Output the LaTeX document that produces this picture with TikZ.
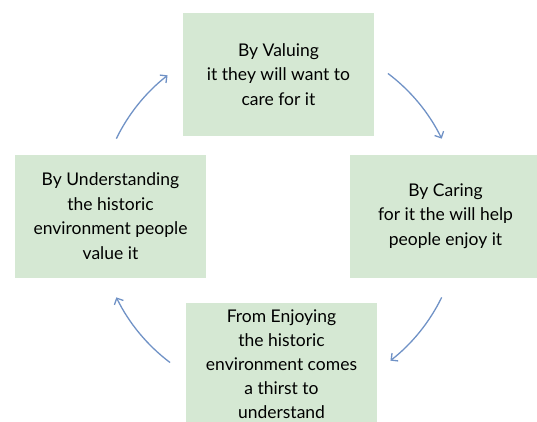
\documentclass[tikz,border=0pt]{standalone}
\usepackage{fontspec}
\setmainfont{Lato}
\usetikzlibrary{arrows.meta}
\definecolor{boxgreen}{RGB}{213,232,211}
\definecolor{arrowblue}{RGB}{112,146,198}
\tikzset{
  stage/.style={fill=boxgreen, minimum width=191pt, minimum height=123pt, inner sep=0pt,
    align=center, font=\fontsize{17.5}{24.5}\selectfont},
  cyclearrow/.style={arrowblue, line width=1.3pt, -{Straight Barb[length=5pt,width=10pt]}}
}

\begin{document}
\begin{tikzpicture}[x=1pt,y=1pt]
	%%%%% START %%%%%
	
	\useasboundingbox (0,0) rectangle (537,421);
	\clip (0,0) rectangle (537,421);
	
	\node[stage] (valuing) at (278.5,346.5) {By Valuing\\it they will want to\\care for it};
	\node[stage] (caring) at (445.5,205) {By Caring\\for it the will help\\people enjoy it};
	\node[stage, font=\fontsize{17.5}{24}\selectfont] (enjoying) at (281.5,57) {From Enjoying\\the historic\\environment comes\\a thirst to\\understand};
	\node[stage] (understanding) at (110.5,205) {By Understanding\\the historic\\environment people\\value it};
	
	\coordinate (hub) at (279,203);
	\draw[cyclearrow] ([shift={(154:181)}]hub) arc[start angle=154, end angle=128, radius=181];
	\draw[cyclearrow] ([shift={(53:181)}]hub) arc[start angle=53, end angle=26, radius=181];
	\draw[cyclearrow] ([shift={(-26:181)}]hub) arc[start angle=-26, end angle=-52, radius=181];
	\draw[cyclearrow] ([shift={(-127:181)}]hub) arc[start angle=-127, end angle=-154, radius=181];
	
	%%%%% END %%%%%
\end{tikzpicture}
\end{document}
